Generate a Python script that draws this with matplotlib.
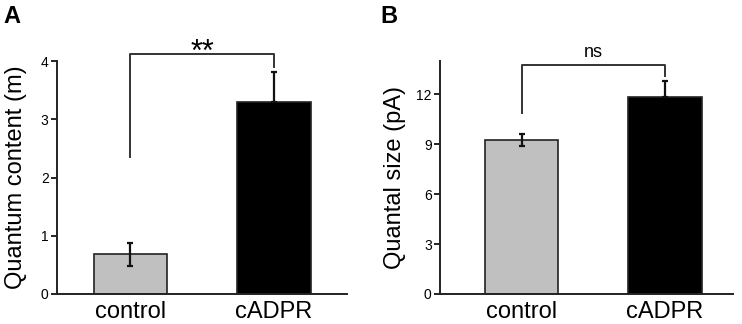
import matplotlib.pyplot as plt
import numpy as np

plt.rcParams['font.family'] = ['Liberation Sans', 'DejaVu Sans']

groups = ['control', 'cADPR']
bar_colors = ['#c0c0c0', '#000000']

quantum_mean = [0.68, 3.30]
quantum_err = [0.20, 0.51]

size_mean = [9.25, 11.82]
size_err = [0.35, 0.98]

fig = plt.figure(figsize=(7.42, 3.24), dpi=100)

axA = fig.add_axes([0.0768, 0.0926, 0.3908, 0.7191])
axB = fig.add_axes([0.5930, 0.0926, 0.3950, 0.7191])


def draw_panel(ax, means, errs, ylim, yticks, ylabel, xlim, lpad):
    x = np.arange(len(groups))
    ax.bar(x, means, width=0.512, color=bar_colors, edgecolor='#222222',
           linewidth=1.2, zorder=2)
    # control: symmetric error bar, cADPR: only upper part shows
    ax.errorbar(x[0], means[0], yerr=errs[0], fmt='none', ecolor='#111111',
                elinewidth=1.6, capsize=2.5, capthick=1.6, zorder=3)
    ax.errorbar(x[1], means[1], yerr=[[0], [errs[1]]], fmt='none',
                ecolor='#111111', elinewidth=1.6, capsize=2.5, capthick=1.6,
                zorder=3)
    ax.set_xlim(*xlim)
    ax.set_ylim(*ylim)
    ax.set_yticks(yticks)
    ax.set_xticks(x)
    ax.set_xticklabels(groups, fontsize=17)
    ax.tick_params(axis='x', length=0, pad=5)
    ax.tick_params(axis='y', length=4, width=1.2, labelsize=10, pad=2)
    ax.set_ylabel(ylabel, fontsize=17, labelpad=lpad)
    for s in ['top', 'right']:
        ax.spines[s].set_visible(False)
    for s in ['left', 'bottom']:
        ax.spines[s].set_linewidth(1.4)
        ax.spines[s].set_color('#222222')


draw_panel(axA, quantum_mean, quantum_err, (0, 4), [0, 1, 2, 3, 4],
           'Quantum content (m)', (-0.512, 1.509), 10)
draw_panel(axB, size_mean, size_err, (0, 14), [0, 3, 6, 9, 12],
           'Quantal size (pA)', (-0.568, 1.474), 7)

# significance brackets
axA.plot([0, 0, 1, 1], [2.35, 4.12, 4.12, 3.90], color='#333333',
         lw=1.4, clip_on=False)
axA.text(0.5, 4.0, '**', ha='center', va='baseline', fontsize=22)

axB.plot([0, 0, 1, 1], [10.86, 13.76, 13.76, 13.1], color='#333333',
         lw=1.4, clip_on=False)
axB.text(0.5, 14.24, 'ns', ha='center', va='baseline', fontsize=13)

fig.text(0.004, 0.985, 'A', fontsize=17, fontweight='bold', va='top')
fig.text(0.513, 0.985, 'B', fontsize=17, fontweight='bold', va='top')

fig.savefig('out.png', dpi=100)
